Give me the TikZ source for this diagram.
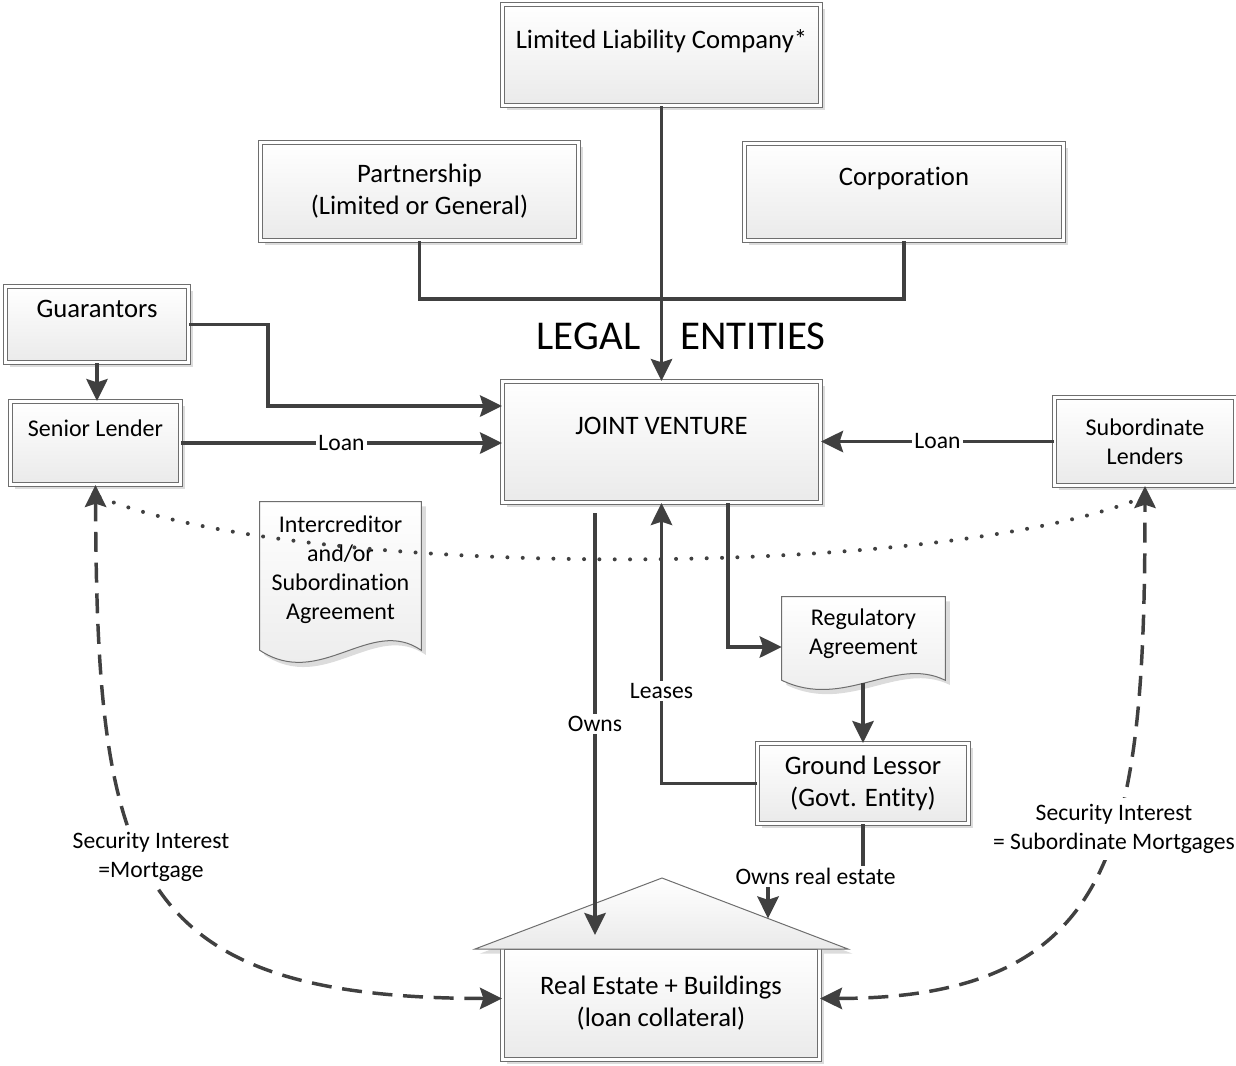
\documentclass[tikz,border=0pt]{standalone}
\usepackage{fontspec}
\setmainfont{Carlito}[Ligatures={NoCommon}]
\usetikzlibrary{arrows.meta,calc,shadows}
\definecolor{linec}{HTML}{404040}
\definecolor{boxline}{HTML}{6E6E6E}
\definecolor{boxbot}{HTML}{EAEAEA}
\definecolor{shadowc}{HTML}{DCDCDC}
\newcommand\fbig{\fontsize{20}{24}\selectfont}
\newcommand\fsmall{\fontsize{18}{21.75}\selectfont}
\newcommand\flab{\fontsize{17.7}{21.75}\selectfont}
\newcommand\flegal{\fontsize{30.7}{36}\selectfont}
\tikzset{mytip/.tip={Stealth[length=16.5pt,width=16pt,inset=2.5pt]}}
\begin{document}
\begin{tikzpicture}[x=0.75pt,y=-0.75pt,
 myshadow/.style={drop shadow={shadow xshift=3.5pt,shadow yshift=-3.5pt,fill=shadowc,opacity=1}},
 box/.style={rectangle, draw=boxline, line width=0.75pt, double=white, double distance=2.2pt,
   top color=white, bottom color=boxbot, myshadow, align=center, inner sep=0pt, font=\fbig},
 bx/.style 2 args={box, minimum width=#1*0.75pt, minimum height=#2*0.75pt},
 doc/.style={draw=boxline, line width=0.75pt, top color=white, bottom color=boxbot, myshadow},
 docbox/.style 2 args={minimum width=#1*0.75pt, minimum height=#2*0.75pt, inner sep=0pt},
 doctext/.style={font=\fsmall, align=center, inner sep=0pt},
 conn/.style={draw=linec, line width=2.6pt, -mytip},
 plain/.style={draw=linec, line width=2.6pt},
 dashc/.style={draw=linec, line width=2.6pt, dash pattern=on 15pt off 8pt, mytip-mytip},
 dotc/.style={draw=linec, line width=3pt, line cap=round, dash pattern=on 0pt off 11.5pt},
 lab/.style={fill=white, font=\flab, inner sep=2pt, align=center, text=black},
 legalt/.style={font=\flegal, inner sep=0pt}
]
\useasboundingbox (0,0) rectangle (1236,1065);

% boxes
\node[bx={318}{101}] (llc) at (661.5,55) {Limited Liability Company*\\\mbox{}};
\node[bx={318}{98}] (part) at (419.5,191.5) {Partnership\\(Limited or General)};
\node[bx={319}{97}] (corp) at (904,192) {Corporation\\\mbox{}};
\node[bx={183}{76}] (guar) at (97,324.5) {Guarantors\\\mbox{}};
\node[bx={170}{83}, font=\fsmall] (senior) at (95.5,443) {Senior Lender\\\mbox{}};
\node[bx={318}{121}] (jv) at (661.5,442) {JOINT VENTURE\\\mbox{}};
\node[bx={181}{88}, font=\fsmall] (sub) at (1145,441.5) {Subordinate\\Lenders};
\node[bx={211}{80}] (ground) at (863,783.5) {Ground Lessor\\(Govt. Entity)};

% house
\coordinate (apex) at (662,878);
\coordinate (roofL) at (475,949);
\coordinate (roofR) at (848,949);
\fill[shadowc] ($(roofL)+(4.7,4.7)$) -- ($(apex)+(4.7,4.7)$) -- ($(roofR)+(4.7,4.7)$) -- cycle;
\node[bx={317}{112}] (house) at (661,1003.5) {Real Estate + Buildings\\(loan collateral)};
\path[draw=boxline, line width=0.75pt, top color=white, bottom color=boxbot] (roofL) -- (apex) -- (roofR) -- cycle;

% documents
\node[docbox={161}{148}] (icbox) at (340.5,576) {};
\path[doc] (icbox.north west) -- (icbox.north east) -- (icbox.south east)
  .. controls ($(icbox.south east)+(-51,-35)$) and ($(icbox.south east)+(-101,40)$) .. (icbox.south west) -- cycle;
\node[doctext] (ic) at ($(icbox.center)+(0,-6.5)$) {Intercreditor\\and/or\\Subordination\\Agreement};

\node[docbox={163}{83}] (regbox) at (863.5,638.5) {};
\path[doc] (regbox.north west) -- (regbox.north east) -- (regbox.south east)
  .. controls ($(regbox.south east)+(-51,-25)$) and ($(regbox.south east)+(-101,30)$) .. (regbox.south west) -- cycle;
\node[doctext] (reg) at ($(regbox.center)+(0,-5)$) {Regulatory\\Agreement};

% legal entities
\draw[plain] (part.south) -- ++(0,58) -| (corp.south);
\draw[conn] (llc.south) -- (jv.north);
\node[legalt] (legal) at (588.5,336) {LEGAL};
\node[legalt] (entities) at (753,336) {ENTITIES};

% connectors
\coordinate (gb) at (268,406);
\draw[conn] (guar.east) -| (gb) -- (gb -| jv.west);
\draw[conn] (guar.south) -- (guar.south |- senior.north);
\draw[conn] (senior.east) -- node[lab]{Loan} (senior.east -| jv.west);
\draw[conn] (sub.west) -- node[lab]{Loan} (sub.west -| jv.east);
\draw[conn] ($(jv.south)+(-66.5,10)$) -- node[lab]{Owns} ($(house.north)+(-66,-12)$);
\draw[conn] (ground.west) -| node[lab,pos=0.665]{Leases} (jv.south);
\draw[conn] ($(jv.south)+(66.5,0)$) |- ($(regbox.west)+(0,8.5)$);
\draw[conn] ($(regbox.south -| ground.north)+(0,3)$) -- (ground.north);
\draw[conn] (ground.south) -- ++(0,52.5) -| node[lab,pos=0.25]{Owns real estate} ($(apex)!0.57!(roofR)$);

% security interests
\draw[dashc] ($(house.west)+(0,-5)$) .. controls (130,998) and (97,870) .. (senior.south);
\draw[dashc] ($(house.east)+(0,-5)$) .. controls (1120,998) and (1145,840) .. (sub.south);
\node[lab, inner sep=5pt] (sil) at (151,857) {Security Interest\\=Mortgage};
\node[lab, inner sep=5pt] (sir) at (1114,829) {Security Interest\\= Subordinate Mortgages};

% intercreditor dotted line
\draw[dotc] ($(senior.south)+(4,12)$) .. controls (300,580) and (940,580) .. ($(sub.south)+(-4,12)$);
\end{tikzpicture}
\end{document}
